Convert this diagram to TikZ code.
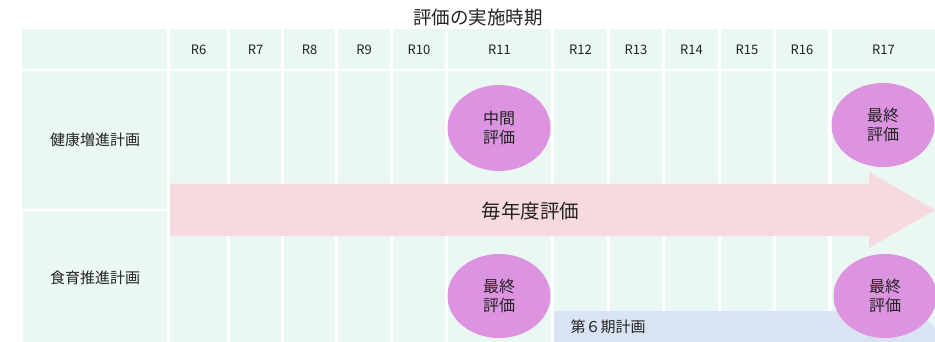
\documentclass[tikz,border=0pt]{standalone}
\usepackage{fontspec}
\setmainfont{Noto Sans CJK JP}
\usetikzlibrary{shapes.geometric}
\definecolor{cellmint}{HTML}{EBF7F3}
\definecolor{yearpink}{HTML}{F6DADF}
\definecolor{evalpurple}{HTML}{DC94E0}
\definecolor{planblue}{HTML}{DAE3F3}
\definecolor{inkgray}{HTML}{222222}
\tikzset{
  evalmark/.style={ellipse, fill=evalpurple, minimum width=103, minimum height=86,
    align=center, font=\fontsize{16}{19.5}\selectfont, text=inkgray, inner sep=0pt},
  yearlabel/.style={font=\fontsize{13}{14}\selectfont, text=inkgray},
  rowlabel/.style={font=\fontsize{15}{16}\selectfont, text=inkgray}
}
\begin{document}
\begin{tikzpicture}[x=1pt, y=-1pt]
  \useasboundingbox (0,0) rectangle (935,342);
  \clip (0,0) rectangle (935,342);
  \node[font=\fontsize{18.5}{20}\selectfont, text=inkgray] (title) at (478,17) {評価の実施時期};

  % left column
  \fill[cellmint] (22,29) rectangle (167,69);
  \fill[cellmint] (22,71) rectangle (167,209);
  \fill[cellmint] (23,211) rectangle (167,342);
  \node[rowlabel] (kenko) at (95,140) {健康増進計画};
  \node[rowlabel] (shokuiku) at (95,278) {食育推進計画};

  % year columns
  \foreach \yr/\a/\b in {R6/170/227, R7/230/281, R8/284/335, R9/338/390,
      R10/393/445, R11/448/551, R12/554/607, R13/610/662, R14/665/718,
      R15/721/773, R16/776/828, R17/832/935} {
    \fill[cellmint] (\a,29) rectangle (\b,69);
    \fill[cellmint] (\a,71) rectangle (\b,342);
    \node[yearlabel] (h\yr) at ({(\a+\b)/2},50) {\yr};
  }

  % plan period and yearly evaluation
  \fill[planblue] (554,311) -- (918,311) -- (970,363) -- (554,363) -- cycle;
  \node[rowlabel, anchor=west] (plan) at (567,327) {第６期計画};
  \fill[yearpink] (170,184) -- (869,184) -- (869,172) -- (935,210)
    -- (869,248) -- (869,236) -- (170,236) -- cycle;
  \node[font=\fontsize{19.5}{21}\selectfont, text=inkgray, anchor=west] (yearly) at (478,211) {毎年度評価};

  \node[evalmark] (midA) at (499,128) {中間\\評価};
  \node[evalmark, minimum height=84] (finA) at (883,125) {最終\\評価};
  \node[evalmark, minimum height=84] (finB) at (499,296) {最終\\評価};
  \node[evalmark, minimum height=84] (finC) at (885,296) {最終\\評価};
\end{tikzpicture}
\end{document}
